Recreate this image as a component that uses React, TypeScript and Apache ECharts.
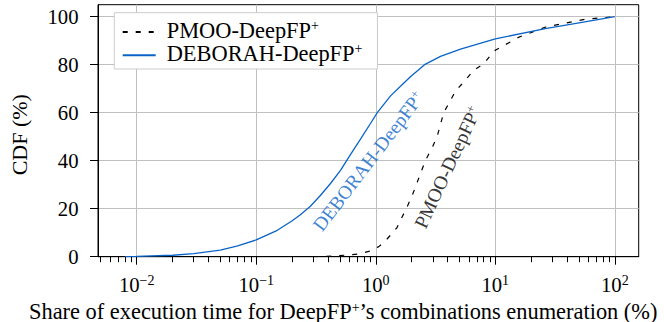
import React, { useEffect, useRef } from "react";
import * as echarts from "echarts";

// ---- data ----
const DEBORAH_X = [0.008, 0.01, 0.02, 0.03, 0.05, 0.07, 0.1, 0.15, 0.2, 0.234, 0.284, 0.344, 0.418, 0.507, 0.614, 0.745, 0.903, 1.03, 1.33, 1.61, 1.95, 2.56, 3.48, 5.12, 10, 26.2, 51.6, 100];
const DEBORAH_Y = [0, 0.1, 0.6, 1.3, 2.7, 4.5, 7, 11, 15, 17.5, 21, 25.5, 30.5, 36, 42.5, 49, 55.5, 60, 67, 71, 75, 80, 83.5, 86.5, 90.8, 95, 97.5, 100];

const PMOO_X = [0.3, 0.45, 0.58, 0.72, 0.9, 1.06, 1.2, 1.5, 1.83, 2.0, 2.3, 2.6, 3.0, 3.26, 3.7, 4.65, 5.5, 6.6, 8.0, 8.5, 9.5, 10, 15.8, 26.5, 57, 100];
const PMOO_Y = [0, 0.3, 0.7, 1.1, 2.4, 4.2, 6.5, 12, 20.8, 25, 33, 40, 46, 50, 60, 69, 73, 77.7, 80.4, 82, 85, 86, 91.5, 95.7, 99, 100];

const SERIES_NAMES = ["PMOO-DeepFP", "DEBORAH-DeepFP"];
const MAJOR_TICKS = [0.01, 0.1, 1, 10, 100];
const MINOR_DECADES = [0.001, 0.01, 0.1, 1, 10];
const MINOR_MULTIPLIERS = [2, 3, 4, 5, 6, 7, 8, 9];
const Y_TICKS = [0, 20, 40, 60, 80, 100];
const X_RANGE = [-2.324, 2.2]; // log10 extent
const Y_RANGE = [0, 105];
const X_TITLE = ["Share of execution time for DeepFP", "+", "\u2019s combinations enumeration (%)"];

// curve label anchors [x value, y value, rotation]
const LABEL_DEBORAH = [0.87, 39.8, 52.7];
const LABEL_PMOO = [4.0, 37.3, 65];

const BLUE = "#0a64c8";
const FONT = "Liberation Serif";

const lg = (v: number) => Math.log10(v);

export default function App() {
  const ref = useRef<HTMLDivElement>(null);
  useEffect(() => {
    if (!ref.current) return;
    const chart = echarts.init(ref.current, undefined, { renderer: "svg" });

    const minor: number[] = [];
    MINOR_DECADES.forEach((d) =>
      MINOR_MULTIPLIERS.forEach((m) => {
        const v = lg(d * m);
        if (v > X_RANGE[0] && v < X_RANGE[1]) minor.push(v);
      })
    );

    const sup = { fontSize: 14, lineHeight: 14, verticalAlign: "top", fontFamily: FONT, fill: "#000", color: "#000" };
    const base = { fontSize: 22.4, lineHeight: 24, fontFamily: FONT, color: "#000" };
    const nameBase = { fontSize: 22.4, lineHeight: 22, fontFamily: FONT, fill: "#000", color: "#000" };
    const tickBase = { fontSize: 20.7, lineHeight: 22, fontFamily: FONT, color: "#000" };
    const tickSup = { fontSize: 14, lineHeight: 14, verticalAlign: "top", fontFamily: FONT, color: "#000" };

    const pmooData = PMOO_X.map((x, i) => [lg(x), PMOO_Y[i]]);
    const debData = DEBORAH_X.map((x, i) => [lg(x), DEBORAH_Y[i]]);

    chart.setOption({
      animation: false,
      backgroundColor: "#fff",
      textStyle: { fontFamily: FONT },
      grid: {
        left: 98,
        right: 25.3,
        top: 4.7,
        bottom: 65.3,
        show: true,
        borderColor: "#000",
        borderWidth: 1,
        backgroundColor: "transparent",
        containLabel: false,
        outerBoundsMode: "none",
      },
      graphic: [
        {
          type: "text",
          left: 29,
          top: 300.5,
          silent: true,
          style: {
            text: `{b|${X_TITLE[0]}}{s|${X_TITLE[1]}}{b|${X_TITLE[2]}}`,
            fontFamily: FONT,
            fontSize: 22.4,
            fill: "#000",
            rich: { b: nameBase, s: sup },
          },
        },
      ],
      legend: {
        data: SERIES_NAMES,
        orient: "vertical",
        left: 114.3,
        top: 12.7,
        padding: [5.3, 15, 4.7, 7.4],
        itemGap: 0.3,
        itemWidth: 33,
        itemHeight: 14,
        backgroundColor: "#fff",
        borderColor: "#cccccc",
        borderWidth: 1,
        borderRadius: 0,
        itemStyle: { opacity: 0 },
        formatter: (n: string) => `{b|${n}}{s|+}`,
        textStyle: {
          fontFamily: FONT,
          fontSize: 22.4,
          color: "#000",
          padding: [0, 0, 4, 6],
          rich: { b: base, s: sup },
        },
      },
      xAxis: [
        {
          type: "value",
          min: X_RANGE[0],
          max: X_RANGE[1],
          position: "bottom",
          axisLine: { show: true, onZero: false, lineStyle: { color: "#000", width: 1 } },
          axisTick: {
            show: true,
            inside: false,
            length: 8,
            customValues: MAJOR_TICKS.map(lg),
            lineStyle: { color: "#000", width: 1 },
          },
          axisLabel: {
            show: true,
            margin: 17,
            customValues: MAJOR_TICKS.map(lg),
            formatter: (v: number) => {
              const e = Math.round(v);
              return `{b|10}{s|${e < 0 ? "\u2212" + -e : e}}`;
            },
            rich: { b: tickBase, s: tickSup },
          },
          splitLine: { show: true, lineStyle: { color: "#c0c0c0", width: 1 } },
        },
        {
          type: "value",
          min: X_RANGE[0],
          max: X_RANGE[1],
          position: "bottom",
          axisLine: { show: false, onZero: false },
          axisTick: {
            show: true,
            inside: false,
            length: 5.5,
            customValues: minor,
            lineStyle: { color: "#000", width: 1 },
          },
          axisLabel: { show: false },
          splitLine: { show: false },
        },
      ],
      yAxis: {
        type: "value",
        min: Y_RANGE[0],
        max: Y_RANGE[1],
        axisLine: { show: true, onZero: false, lineStyle: { color: "#000", width: 1 } },
        axisTick: {
          show: true,
          length: 8,
          customValues: Y_TICKS,
          lineStyle: { color: "#000", width: 1 },
        },
        axisLabel: {
          margin: 19.5,
          customValues: Y_TICKS,
          fontFamily: FONT,
          fontSize: 20.7,
          color: "#000",
        },
        splitLine: { show: true, lineStyle: { color: "#c0c0c0", width: 1 } },
        name: "CDF (%)",
        nameLocation: "middle",
        nameGap: 68,
        nameTextStyle: { fontFamily: FONT, fontSize: 22, color: "#000", padding: [0, 8, 0, 0] },
      },
      series: [
        {
          name: SERIES_NAMES[0],
          type: "line",
          data: pmooData,
          symbol: "none",
          showSymbol: false,
          lineStyle: { color: "#000", width: 1.2, type: [5, 8] },
          itemStyle: { color: "#000" },
          z: 3,
        },
        {
          name: SERIES_NAMES[1],
          type: "line",
          data: debData,
          symbol: "none",
          showSymbol: false,
          lineStyle: { color: BLUE, width: 1.3 },
          itemStyle: { color: BLUE },
          z: 4,
        },
        {
          type: "scatter",
          silent: true,
          symbolSize: 0,
          data: [[lg(LABEL_DEBORAH[0]), LABEL_DEBORAH[1]]],
          label: {
            show: true,
            position: "inside",
            rotate: LABEL_DEBORAH[2],
            formatter: "{b|DEBORAH-DeepFP}{s|+}",
            rich: {
              b: { ...base, fontSize: 19.4, lineHeight: 21, color: BLUE },
              s: { ...sup, fontSize: 12.5, lineHeight: 12.5, color: BLUE },
            },
          },
          z: 5,
        },
        {
          type: "scatter",
          silent: true,
          symbolSize: 0,
          data: [[lg(LABEL_PMOO[0]), LABEL_PMOO[1]]],
          label: {
            show: true,
            position: "inside",
            rotate: LABEL_PMOO[2],
            formatter: "{b|PMOO-DeepFP}{s|+}",
            rich: {
              b: { ...base, fontSize: 19.4, lineHeight: 21 },
              s: { ...sup, fontSize: 12.5, lineHeight: 12.5 },
            },
          },
          z: 5,
        },
      ],
    });
    return () => chart.dispose();
  }, []);
  return <div ref={ref} style={{ width: 664, height: 322, position: "absolute", left: 0, top: 0 }} />;
}
